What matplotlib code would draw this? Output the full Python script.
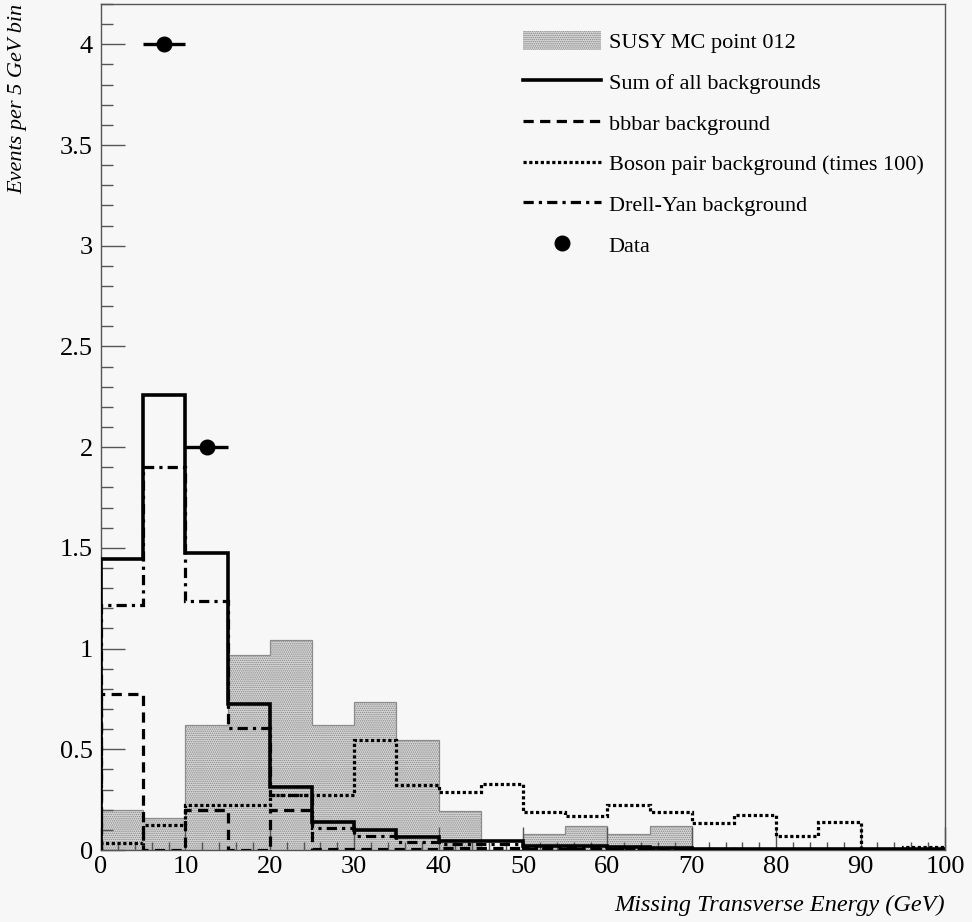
import numpy as np
import matplotlib
matplotlib.use("Agg")
import matplotlib.pyplot as plt
from matplotlib.lines import Line2D
from matplotlib.patches import Patch

# ---------------- data ----------------
bin_edges = np.arange(0, 105, 5)
susy_mc = [0.200, 0.157, 0.620, 0.968, 1.045, 0.620, 0.736, 0.546, 0.195, 0.0,
           0.078, 0.119, 0.078, 0.119, 0.0, 0.0, 0.0, 0.0, 0.0, 0.0]
sum_bkg = [1.443, 2.258, 1.476, 0.723, 0.314, 0.137, 0.101, 0.063, 0.045, 0.045,
           0.020, 0.018, 0.016, 0.010, 0.005, 0.005, 0.004, 0.004, 0.003, 0.003]
bbbar = [0.773, 0.0, 0.199, 0.0, 0.199, 0.005, 0.005, 0.005, 0.012, 0.012,
         0.004, 0.004, 0.004, 0.002, 0.0, 0.0, 0.0, 0.0, 0.0, 0.0]
boson_x100 = [0.036, 0.124, 0.223, 0.223, 0.273, 0.273, 0.546, 0.323, 0.290, 0.326,
              0.187, 0.170, 0.223, 0.187, 0.136, 0.174, 0.069, 0.137, 0.0, 0.017]
drell_yan = [1.216, 1.899, 1.237, 0.604, 0.273, 0.111, 0.071, 0.041, 0.032, 0.032,
             0.010, 0.010, 0.010, 0.005, 0.003, 0.002, 0.002, 0.001, 0.001, 0.001]
data_x = [7.5, 12.5]
data_y = [4.0, 2.0]
data_xerr = [2.5, 2.5]

labels = ["SUSY MC point 012", "Sum of all backgrounds", "bbbar background",
          "Boson pair background (times 100)", "Drell-Yan background", "Data"]

# ---------------- style ----------------
BG = "#f7f7f7"
FILL = "#d8d8d8"
HATCH = "#858585"
plt.rcParams["font.family"] = ["Liberation Serif", "DejaVu Serif"]
plt.rcParams["hatch.linewidth"] = 0.7
plt.rcParams["hatch.color"] = HATCH

fig = plt.figure(figsize=(9.72, 9.22), dpi=100, facecolor=BG)
ax = fig.add_axes([101 / 972, 1 - 850 / 922, 844 / 972, 846 / 922])
ax.set_facecolor(BG)

lw = 2.3
dash = (0, (3.2, 2.0))
dot = (0, (1.0, 0.8))
dashdot = (0, (3.2, 1.6, 1.0, 1.6))

ax.stairs(susy_mc, bin_edges, fill=True, facecolor=FILL, edgecolor=HATCH,
          hatch="........", linewidth=0.0, zorder=1)
ax.stairs(susy_mc, bin_edges, fill=False, edgecolor="#8c8c8c", linewidth=0.9, zorder=1.5)
ax.stairs(bbbar, bin_edges, color="black", linewidth=lw, linestyle=dash, zorder=3)
ax.stairs(boson_x100, bin_edges, color="black", linewidth=lw, linestyle=dot, zorder=3)
ax.stairs(drell_yan, bin_edges, color="black", linewidth=lw, linestyle=dashdot, zorder=3)
ax.stairs(sum_bkg, bin_edges, color="black", linewidth=2.6, zorder=4)
ax.errorbar(data_x, data_y, xerr=data_xerr, fmt="o", color="black", markersize=10.5,
            elinewidth=2.4, capsize=0, zorder=5)

ax.set_xlim(0, 100)
ax.set_ylim(0, 4.2)
ax.set_xticks(np.arange(0, 101, 10))
ax.set_xticks(np.arange(0, 101, 2), minor=True)
ax.set_yticks(np.arange(0, 4.01, 0.5))
ax.set_yticks(np.arange(0, 4.21, 0.1), minor=True)
ax.set_yticklabels(["0", "0.5", "1", "1.5", "2", "2.5", "3", "3.5", "4"])
ax.tick_params(axis="both", which="both", direction="in", color="#555555",
               labelsize=19, labelcolor="black", top=False, right=False, width=1)
ax.tick_params(axis="y", which="major", length=17, pad=6)
ax.tick_params(axis="y", which="minor", length=8.5)
ax.tick_params(axis="x", which="major", length=16.5, pad=4)
ax.tick_params(axis="x", which="minor", length=5.8)
for s in ax.spines.values():
    s.set_color("#555555")
    s.set_linewidth(1.0)

fig.text(945 / 972, 1 - 905 / 922, "Missing Transverse Energy (GeV)", ha="right", va="center",
         fontsize=17.5, style="italic")
fig.text(18 / 972, 1 - 4 / 922, "Events per 5 GeV bin", ha="center", va="top",
         rotation=90, fontsize=16, style="italic")

handles = [
    Patch(facecolor=FILL, edgecolor=HATCH, linewidth=0, hatch="........"),
    Line2D([], [], color="black", linewidth=2.6),
    Line2D([], [], color="black", linewidth=lw, linestyle=dash),
    Line2D([], [], color="black", linewidth=lw, linestyle=dot),
    Line2D([], [], color="black", linewidth=lw, linestyle=dashdot),
    Line2D([], [], color="black", marker="o", linestyle="none", markersize=10.5),
]
leg = ax.legend(handles, labels, loc="upper left", bbox_to_anchor=(512 / 972, 1 - 20 / 922),
                bbox_transform=fig.transFigure, frameon=False, fontsize=16,
                handlelength=3.5, handleheight=0.95, handletextpad=0.35,
                labelspacing=0.83, borderpad=0.0)

fig.savefig("out.png", dpi=100, facecolor=BG)
